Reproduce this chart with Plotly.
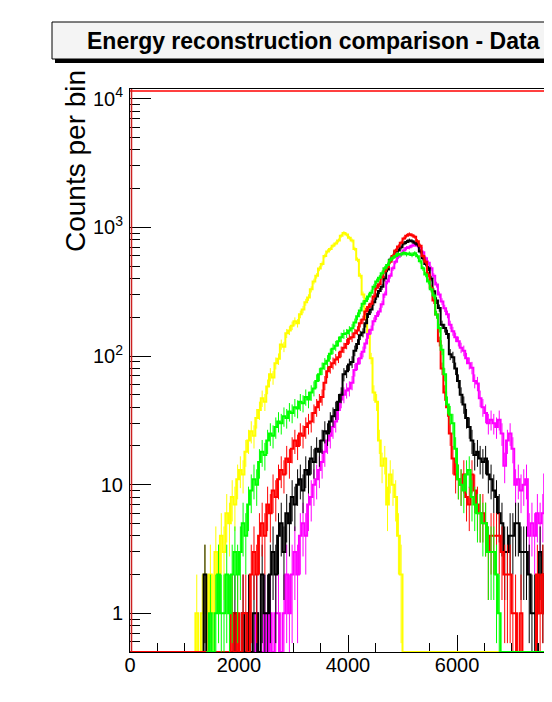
import math
import plotly.graph_objects as go

# ---------------- data (counts per 50-unit bin) ----------------
BIN_WIDTH = 50
X_END = 7800

yellow_start = 1150
yellow_counts = [0, 1, 0, 1, 2, 1, 2, 1, 3, 2, 4, 3, 6, 5, 8, 7, 11, 13, 12, 18, 22, 26, 24, 33, 38,
                 47, 44, 58, 72, 68, 88, 95, 123, 118, 150, 158, 172, 186, 180, 211, 230, 262, 285,
                 330, 380, 420, 478, 520, 600, 650, 680, 720, 750, 790, 860, 905, 880, 830, 790, 680,
                 560, 420, 300, 200, 150, 96, 52, 44, 22, 14, 16, 7, 12, 10, 8, 4, 2]

green_start = 1400
green_counts = [0, 1, 0, 1, 2, 1, 1, 2, 1, 2, 3, 2, 3, 5, 4, 7, 9, 11, 10, 15, 18, 17, 22, 25, 24,
                28, 31, 30, 34, 33, 37, 36, 40, 39, 44, 43, 48, 46, 52, 56, 64, 72, 80, 87, 92, 104,
                114, 120, 130, 140, 148, 150, 158, 164, 182, 204, 226, 255, 268, 290, 310, 345, 380,
                405, 440, 480, 510, 555, 580, 600, 620, 615, 632, 618, 625, 610, 628, 595, 545, 480,
                430, 380, 330, 295, 210, 165, 112, 72, 42, 35, 30, 19, 11, 10, 9, 12, 13, 8, 7, 6, 6,
                5, 5, 3, 3, 3, 2, 1]

red_start = 1800
red_counts = [0, 1, 0, 1, 0, 1, 1, 0, 2, 3, 2, 4, 5, 4, 7, 6, 9, 8, 11, 13, 12, 16, 15, 19, 22, 20,
              25, 24, 28, 30, 31, 36, 40, 44, 48, 62, 76, 82, 88, 94, 98, 108, 116, 124, 136, 140,
              150, 158, 180, 192, 222, 240, 255, 290, 340, 362, 410, 456, 490, 540, 600, 660, 710,
              760, 820, 860, 885, 870, 845, 780, 720, 600, 540, 430, 340, 270, 210, 130, 80, 52, 40,
              25, 16, 12, 11, 10, 12, 8, 7, 12, 9, 7, 6, 6, 5, 3, 4, 4, 4, 4, 3, 2, 2, 2, 1, 1, 0,
              1, 0, 0, 0, 0, 0, 2, 1, 2, 1, 0, 0, 0]

black_start = 1300
black_counts = [0, 2, 0, 0, 0, 0, 0, 0, 0, 0, 0, 0, 1, 0, 0, 1, 0, 1, 0, 1, 1, 0, 2, 1, 1, 2, 3, 2,
                4, 5, 3, 6, 5, 8, 7, 10, 11, 9, 13, 12, 16, 15, 19, 18, 22, 26, 25, 31, 34, 38, 44,
                50, 72, 76, 86, 90, 110, 124, 145, 152, 180, 212, 230, 262, 290, 320, 345, 400, 470,
                560, 590, 650, 660, 700, 750, 770, 790, 780, 760, 735, 650, 575, 520, 480, 400, 318,
                270, 236, 175, 165, 148, 103, 98, 80, 64, 50, 42, 33, 28, 22, 17, 18, 16, 15, 16, 12,
                11, 9, 8, 6, 5, 3, 3, 4, 4, 5, 5, 3, 3, 3, 2, 1, 1, 1, 3, 2, 1, 1, 1, 0]

magenta_start = 2250
magenta_counts = [0, 1, 0, 0, 1, 0, 1, 0, 1, 1, 0, 1, 2, 1, 2, 3, 2, 4, 5, 4, 7, 8, 10, 11, 13, 15,
                  18, 22, 24, 28, 31, 38, 46, 50, 54, 56, 62, 78, 87, 96, 108, 125, 148, 160, 186,
                  205, 222, 253, 300, 380, 420, 480, 540, 590, 620, 660, 690, 700, 720, 735, 720,
                  690, 640, 575, 530, 480, 420, 359, 300, 265, 235, 211, 175, 156, 140, 130, 116,
                  110, 96, 88, 81, 64, 61, 47, 40, 36, 30, 32, 30, 28, 32, 25, 14, 22, 25, 19, 10,
                  11, 9, 10, 11, 4, 5, 4, 6, 5, 6, 12, 8, 6, 5]

x_tick_vals = [0, 2000, 4000, 6000]
x_tick_text = ["0", "2000", "4000", "6000"]
y_tick_vals = [1, 10, 100, 1000, 10000]
y_tick_text = ["1", "10", "10<sup>2</sup>", "10<sup>3</sup>", "10<sup>4</sup>"]

# ---------------- layout geometry ----------------
# the page body has an 8px margin, so the figure is 16px smaller than the window
OFF = 8
W, H = 552 - OFF, 702 - 2 * OFF
ML, MT = 130 - OFF, 89 - OFF
MB = H - (652 - OFF)
PW, PH = W - ML, H - MT - MB
X_MAX = 7743
Y_MIN, Y_MAX = 0.5, 11900

FONT = "Liberation Sans, Arial, Helvetica"


def full_counts(start, counts, draw_from):
    n_pre = (start - draw_from) // BIN_WIDTH
    c = [0] * n_pre + list(counts)
    total = (X_END - draw_from) // BIN_WIDTH
    c = c + [0] * (total - len(c))
    return c


def hist_traces(start, counts, color, draw_from=0):
    c = full_counts(start, counts, draw_from)
    edges = [draw_from + i * BIN_WIDTH for i in range(len(c) + 1)]
    ys = [v if v > 0 else Y_MIN for v in c]
    ys = ys + [ys[-1]]
    line = go.Scatter(x=edges, y=ys, mode="lines",
                      line=dict(color=color, width=2, shape="hv"),
                      hoverinfo="skip", showlegend=False)
    cx, cy, up, dn = [], [], [], []
    for i, v in enumerate(c):
        if v > 0:
            cx.append(draw_from + (i + 0.5) * BIN_WIDTH)
            cy.append(v)
            e = math.sqrt(v)
            up.append(e)
            dn.append(v - max(v - e, 0.3))
    err = go.Scatter(x=cx, y=cy, mode="markers",
                     marker=dict(size=1, color=color, opacity=0),
                     error_y=dict(type="data", array=up, arrayminus=dn, symmetric=False,
                                  color=color, thickness=1, width=0),
                     hoverinfo="skip", showlegend=False)
    return [err, line]


fig = go.Figure()
for tr in hist_traces(yellow_start, yellow_counts, "#ffff00"):
    fig.add_trace(tr)
for tr in hist_traces(magenta_start, magenta_counts, "#ff00ff"):
    fig.add_trace(tr)
for tr in hist_traces(black_start, black_counts, "#000000"):
    fig.add_trace(tr)
for tr in hist_traces(red_start, red_counts, "#ff0000"):
    fig.add_trace(tr)
for tr in hist_traces(green_start, green_counts, "#00ff00", draw_from=green_start):
    fig.add_trace(tr)

minor_y = []
for d in [0.1, 1, 10, 100, 1000]:
    for k in range(2, 10):
        v = k * d
        if Y_MIN < v < Y_MAX:
            minor_y.append(v)

fig.update_layout(
    width=W, height=H,
    margin=dict(l=ML, r=0, t=MT, b=MB, pad=0),
    paper_bgcolor="white", plot_bgcolor="white",
    showlegend=False,
    xaxis=dict(range=[0, X_MAX], showgrid=False, zeroline=False,
               showline=True, mirror=True, linecolor="black", linewidth=1,
               layer="below traces",
               ticks="inside", ticklen=17, tickwidth=1, tickcolor="black",
               tickmode="array", tickvals=x_tick_vals, ticktext=x_tick_text,
               tickfont=dict(family=FONT, size=20, color="black"),
               ticklabelstandoff=-5,
               minor=dict(dtick=500, tick0=0, ticks="inside", ticklen=9,
                          tickwidth=1, tickcolor="black", showgrid=False)),
    yaxis=dict(type="log", range=[math.log10(Y_MIN), math.log10(Y_MAX)],
               showgrid=False, zeroline=False,
               showline=True, mirror=False, linecolor="black", linewidth=1,
               ticks="inside", ticklen=21, tickwidth=1, tickcolor="black",
               tickmode="array", tickvals=y_tick_vals, ticktext=y_tick_text,
               tickfont=dict(family=FONT, size=20, color="black"),
               ticklabelstandoff=2,
               minor=dict(tickmode="array", tickvals=minor_y, ticks="inside", ticklen=10,
                          tickwidth=1, tickcolor="black", showgrid=False)),
)

# red lines just inside top and left of the frame
fig.add_shape(type="line", xref="paper", yref="paper", x0=0, x1=1,
              y0=1 - 2.0 / PH, y1=1 - 2.0 / PH, line=dict(color="#ff0000", width=1.5))
fig.add_shape(type="line", xref="paper", yref="paper", x0=1.5 / PW, x1=1.5 / PW,
              y0=0, y1=1, line=dict(color="#cc2020", width=1.5))


def px_x(p):
    """page pixel x -> paper fraction"""
    return (p - OFF - ML) / PW


def px_y(p):
    """page pixel y -> paper fraction"""
    return (H - MB - (p - OFF)) / PH


# title box with shadow
fig.add_shape(type="rect", xref="paper", yref="paper",
              x0=px_x(55), x1=px_x(620), y0=px_y(63), y1=px_y(40),
              fillcolor="black", line=dict(width=0), layer="above")
fig.add_shape(type="rect", xref="paper", yref="paper",
              x0=px_x(52), x1=px_x(615), y0=px_y(59), y1=px_y(22),
              fillcolor="#f4f4f4", line=dict(color="black", width=1), layer="above")
fig.add_annotation(text="<b>Energy reconstruction comparison - Data</b>",
                   xref="paper", yref="paper", x=px_x(85), y=px_y(41),
                   xanchor="left", yanchor="middle", showarrow=False,
                   font=dict(family=FONT, size=23, color="black"))

# axis title
fig.add_annotation(text="Counts per bin", xref="paper", yref="paper",
                   x=px_x(75), y=px_y(161), textangle=-90,
                   xanchor="center", yanchor="middle", showarrow=False,
                   font=dict(family=FONT, size=28, color="black"))

# partly visible 8000 label at the right edge
fig.add_annotation(text="8000", xref="paper", yref="paper",
                   x=8000 / X_MAX, y=px_y(669), xanchor="center", yanchor="middle",
                   showarrow=False,
                   font=dict(family=FONT, size=20, color="black"))

fig.write_html("out.html")
